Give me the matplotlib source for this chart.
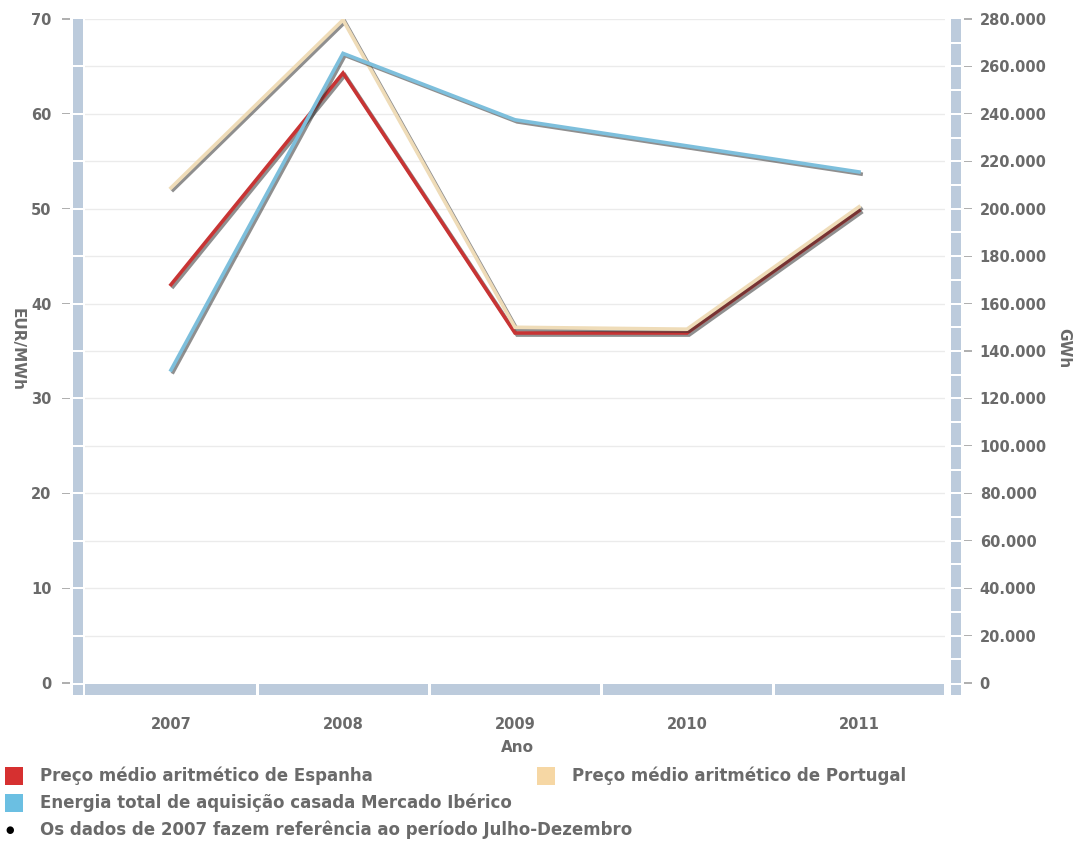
import numpy as np
import matplotlib.pyplot as plt
import matplotlib.patheffects as pe
from matplotlib.patches import Rectangle

# Data
anos = ['2007', '2008', '2009', '2010', '2011']
preco_espanha = [42.0, 64.3, 36.9, 36.9, 49.8]
preco_portugal = [52.2, 69.9, 37.5, 37.3, 50.2]
energia_gwh = [132000, 265500, 237500, 226500, 215500]

y_left_ticks = [0, 10, 20, 30, 40, 50, 60, 70]
y_right_ticks = [0, 20000, 40000, 60000, 80000, 100000, 120000, 140000,
                 160000, 180000, 200000, 220000, 240000, 260000, 280000]

legend_labels = ['Preço médio aritmético de Espanha',
                 'Preço médio aritmético de Portugal',
                 'Energia total de aquisição casada Mercado Ibérico']
nota = 'Os dados de 2007 fazem referência ao período Julho-Dezembro'

c_red = '#c83434'
c_beige = '#efdcb8'
c_blue = '#7dbfdc'
c_bar = '#bccbdc'
c_txt = '#6a6a6a'
c_grid = '#ebebeb'

W, H = 1073, 841
fig = plt.figure(figsize=(W / 100, H / 100), dpi=100)


def px(x0, y0, x1, y1):
    # figure fraction rectangle from pixel box
    return [x0 / W, 1 - y1 / H, (x1 - x0) / W, (y1 - y0) / H]


def add_rect(x0, y0, x1, y1, col):
    fig.patches.append(Rectangle((x0 / W, 1 - y1 / H), (x1 - x0) / W, (y1 - y0) / H,
                                 transform=fig.transFigure, color=col, lw=0))


ax = fig.add_axes(px(85, 19, 945, 683))
ax2 = ax.twinx()

x = np.arange(len(anos)) + 0.5
ax.set_xlim(0, len(anos))
ax.set_ylim(0, 70)
ax2.set_ylim(0, 280000)

# grid every 5 units
for g in np.arange(5, 71, 5):
    ax.axhline(g, color=c_grid, lw=1, zorder=0)

shadow = [pe.SimpleLineShadow(offset=(1.5, -1.5), shadow_color='#333333', alpha=0.55),
          pe.Normal()]
ax.plot(x, preco_espanha, color=c_red, lw=2.6, solid_joinstyle='miter',
        path_effects=shadow, zorder=3)
ax.plot(x, preco_portugal, color=c_beige, lw=2.6, solid_joinstyle='miter',
        path_effects=shadow, zorder=3)
ax2.plot(x, energia_gwh, color=c_blue, lw=2.6, solid_joinstyle='miter',
         path_effects=shadow, zorder=3)

for a in (ax, ax2):
    for s in a.spines.values():
        s.set_visible(False)
    a.set_xticks([])

ax.set_yticks(y_left_ticks)
ax.set_yticklabels([str(t) for t in y_left_ticks])
ax.tick_params(axis='y', length=0, pad=24, labelsize=10.5, labelcolor=c_txt)
ax2.set_yticks(y_right_ticks)
ax2.set_yticklabels(['{:,}'.format(t).replace(',', '.') for t in y_right_ticks])
ax2.tick_params(axis='y', length=0, pad=25, labelsize=10.5, labelcolor=c_txt)
for lab in ax.get_yticklabels() + ax2.get_yticklabels():
    lab.set_fontweight('bold')

# axis bars drawn in pixels
add_rect(73, 19, 83, 683, c_bar)
add_rect(73, 685, 83, 695, c_bar)
add_rect(951, 19, 961, 683, c_bar)
add_rect(951, 685, 961, 695, c_bar)
edges = [85] + [85 + 172 * (i + 1) for i in range(len(anos))]
for i in range(len(anos)):
    add_rect(edges[i] + (2 if i else 0), 684, edges[i + 1] - 1, 695, c_bar)

# white minor marks on the vertical bars, grey dashes for major ticks
for v in np.arange(5, 70, 5):
    yy = 683 - v * 664 / 70
    add_rect(73, yy - 1, 83, yy + 1, 'white')
for v in y_left_ticks:
    yy = 683 - v * 664 / 70
    add_rect(62, yy - 0.6, 70, yy + 0.6, '#b0b0b0')
for v in np.arange(10000, 280000, 10000):
    yy = 683 - v * 664 / 280000
    add_rect(951, yy - 1, 961, yy + 1, 'white')
for v in y_right_ticks:
    yy = 683 - v * 664 / 280000
    add_rect(964, yy - 0.6, 972, yy + 0.6, '#b0b0b0')

# category labels
for xi, lab in zip(x, anos):
    ax.text(xi, -0.062, lab, transform=ax.get_xaxis_transform(), ha='center',
            va='center', fontsize=10.5, fontweight='bold', color=c_txt)

fig.text(517 / W, 1 - 748 / H, 'Ano', ha='center', va='center', fontsize=11,
         fontweight='bold', color=c_txt)
fig.text(17 / W, 1 - 349 / H, 'EUR/MWh', ha='center', va='center', rotation=-90,
         fontsize=11, fontweight='bold', color=c_txt)
fig.text(1064 / W, 1 - 348 / H, 'GWh', ha='center', va='center', rotation=-90,
         fontsize=11, fontweight='bold', color=c_txt)

# legend
leg = [(5, 776, '#d63030', legend_labels[0]),
       (537, 776, '#f6d7a4', legend_labels[1]),
       (5, 803, '#6bbfe2', legend_labels[2])]
for lx, ly, col, txt in leg:
    add_rect(lx, ly - 9, lx + 18, ly + 9, col)
    fig.text((lx + 35) / W, 1 - ly / H, txt, ha='left', va='center',
             fontsize=12, fontweight='bold', color=c_txt)
fig.text(10 / W, 1 - 830 / H, '\u25cf', ha='center', va='center', fontsize=7,
         color='black')
fig.text(40 / W, 1 - 830 / H, nota, ha='left', va='center', fontsize=12,
         fontweight='bold', color=c_txt)

fig.savefig('out.png', dpi=100)
